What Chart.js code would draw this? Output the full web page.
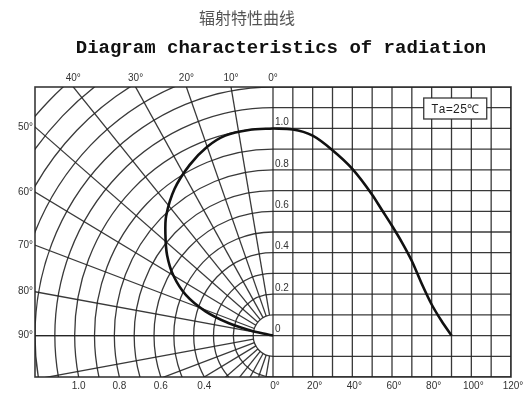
<!DOCTYPE html>
<html>
<head>
<meta charset="utf-8">
<script src="https://cdn.jsdelivr.net/npm/chart.js@4/dist/chart.umd.min.js"></script>
<style>
  html, body { margin: 0; padding: 0; background: #fff; }
  #wrap { width: 531px; height: 396px; position: relative; }
</style>
</head>
<body>
<div id="wrap"><canvas id="c" width="531" height="396"></canvas></div>
<script>
// ---- Data ----
const titleCN = '辐射特性曲线';
const titleEN = 'Diagram characteristics of radiation';
const noteText = 'Ta=25℃';

// Polar curve (left half): angle from axis (deg) and relative intensity
const polarAngles    = [0, 7, 14, 20, 27, 35, 43, 48, 54, 60, 66, 71, 75, 77.5, 79, 80];
const polarIntensity = [1.0, 1.0, 0.995, 0.97, 0.925, 0.865, 0.79, 0.73, 0.66, 0.58, 0.48, 0.36, 0.23, 0.12, 0.05, 0];

// Cartesian curve (right half): angle (deg) vs relative intensity
const cartAngles    = [0, 10, 20, 30, 40, 50, 55, 60, 65, 70, 75, 80, 85, 90];
const cartIntensity = [1.0, 0.995, 0.965, 0.895, 0.805, 0.68, 0.605, 0.53, 0.45, 0.36, 0.25, 0.15, 0.07, 0.0];

// Tick labels
const topAngleLabels = [0, 10, 20, 30, 40];
const leftAngleLabels = [50, 60, 70, 80, 90];
const bottomRadiusLabels = [0.4, 0.6, 0.8, 1.0];
const xTickLabels = [0, 20, 40, 60, 80, 100, 120];
const yTickLabels = [0, 0.2, 0.4, 0.6, 0.8, 1.0];

// Grid definitions
const polarRings = [];  for (let i = 1; i <= 18; i++) polarRings.push(i / 10);
const polarSpokes = []; for (let a = 10; a <= 170; a += 10) polarSpokes.push(a);
const cartXGrid = [];   for (let a = 0; a <= 120; a += 10) cartXGrid.push(a);
const cartYGrid = [];   for (let i = -2; i <= 12; i++) cartYGrid.push(i / 10);

// x-units per unit intensity in the polar half
const POLAR_X = 100;
const rad = d => d * Math.PI / 180;

const polarData = polarAngles.map((a, i) => ({
  x: -polarIntensity[i] * POLAR_X * Math.sin(rad(a)),
  y: polarIntensity[i] * Math.cos(rad(a))
}));
const cartData = cartAngles.map((a, i) => ({ x: a, y: cartIntensity[i] }));

const GRID = 'rgba(35,35,35,0.9)';
const TXT = '#333';

const gridPlugin = {
  id: 'radGrid',
  beforeDatasetsDraw(chart) {
    const { ctx, chartArea: ca, scales: { x, y } } = chart;
    const cx = x.getPixelForValue(0), cy = y.getPixelForValue(0);
    const pxX = (x.getPixelForValue(POLAR_X) - cx);
    const pxY = (cy - y.getPixelForValue(1));
    ctx.save();
    ctx.beginPath();
    ctx.rect(ca.left, ca.top, ca.right - ca.left, ca.bottom - ca.top);
    ctx.clip();
    ctx.strokeStyle = GRID;
    ctx.lineWidth = 1.3;
    polarRings.forEach(r => {
      ctx.beginPath();
      ctx.ellipse(cx, cy, r * pxX, r * pxY, 0, Math.PI / 2, Math.PI * 1.5);
      ctx.stroke();
    });
    polarSpokes.forEach(a => {
      const sx = -Math.sin(rad(a)), sy = -Math.cos(rad(a));
      const r0 = polarRings[0];
      ctx.beginPath();
      ctx.moveTo(cx + sx * r0 * pxX, cy + sy * r0 * pxY);
      ctx.lineTo(cx + sx * 3 * pxX, cy + sy * 3 * pxY);
      ctx.stroke();
    });
    ctx.beginPath();
    ctx.moveTo(ca.left, cy); ctx.lineTo(cx, cy); ctx.stroke();
    cartXGrid.forEach(v => {
      const px = x.getPixelForValue(v);
      ctx.beginPath(); ctx.moveTo(px, ca.top); ctx.lineTo(px, ca.bottom); ctx.stroke();
    });
    cartYGrid.forEach(v => {
      const py = y.getPixelForValue(v);
      ctx.beginPath(); ctx.moveTo(cx, py); ctx.lineTo(ca.right, py); ctx.stroke();
    });
    ctx.restore();
    ctx.save();
    ctx.strokeStyle = GRID;
    ctx.lineWidth = 1.6;
    ctx.strokeRect(ca.left, ca.top, ca.right - ca.left, ca.bottom - ca.top);
    ctx.restore();
  },
  afterDatasetsDraw(chart) {
    const { ctx, chartArea: ca, scales: { x, y } } = chart;
    const cx = x.getPixelForValue(0);
    ctx.save();
    ctx.fillStyle = TXT;
    ctx.font = '10px "Liberation Sans", Arial, sans-serif';
    ctx.textAlign = 'center'; ctx.textBaseline = 'middle';
    topAngleLabels.forEach(a => {
      const v = -POLAR_X * y.max * Math.tan(rad(a));
      ctx.fillText(a + '°', x.getPixelForValue(v), ca.top - 9);
    });
    ctx.textAlign = 'right';
    leftAngleLabels.forEach(a => {
      const v = (-x.min / POLAR_X) / Math.tan(rad(a));
      ctx.fillText(a + '°', ca.left - 2, y.getPixelForValue(v));
    });
    ctx.textAlign = 'center';
    bottomRadiusLabels.forEach(r => {
      const v = -POLAR_X * Math.sqrt(r * r - y.min * y.min);
      ctx.fillText(r.toFixed(1), x.getPixelForValue(v), ca.bottom + 9);
    });
    xTickLabels.forEach(a => {
      ctx.fillText(a + '°', x.getPixelForValue(a) + 2, ca.bottom + 9);
    });
    ctx.textAlign = 'left';
    yTickLabels.forEach(v => {
      ctx.fillText(v === 0 ? '0' : v.toFixed(1), cx + 2, y.getPixelForValue(v) - 6);
    });
    const bx = x.getPixelForValue(76), bw = 63, bh = 21;
    const by = y.getPixelForValue(1.2) + 11;
    ctx.fillStyle = '#fff';
    ctx.fillRect(bx, by, bw, bh);
    ctx.strokeStyle = GRID; ctx.lineWidth = 1.3;
    ctx.strokeRect(bx, by, bw, bh);
    ctx.fillStyle = '#222';
    ctx.font = '12px "Liberation Mono", monospace';
    ctx.textAlign = 'center';
    ctx.fillText(noteText, bx + bw / 2, by + bh / 2 + 1);
    ctx.fillStyle = '#555';
    ctx.font = '16px "Noto Sans CJK SC", sans-serif';
    ctx.fillText(titleCN, 247, 18);
    ctx.fillStyle = '#111';
    ctx.font = 'bold 19px "Liberation Mono", monospace';
    ctx.fillText(titleEN, 281, 48);
    ctx.restore();
  }
};

new Chart(document.getElementById('c'), {
  type: 'scatter',
  data: {
    datasets: [
      { label: 'polar', data: polarData, showLine: true, tension: 0.3,
        borderColor: '#111', borderWidth: 2.6, pointRadius: 0, fill: false },
      { label: 'cartesian', data: cartData, showLine: true, cubicInterpolationMode: 'monotone',
        borderColor: '#111', borderWidth: 2.6, pointRadius: 0, fill: false }
    ]
  },
  options: {
    responsive: false,
    animation: false,
    layout: { padding: { left: 35, right: 20, top: 87, bottom: 19 } },
    plugins: { legend: { display: false }, tooltip: { enabled: false }, title: { display: false } },
    scales: {
      x: { type: 'linear', min: -120, max: 120, display: false },
      y: { type: 'linear', min: -0.2, max: 1.2, display: false }
    }
  },
  plugins: [gridPlugin]
});
</script>
</body>
</html>
